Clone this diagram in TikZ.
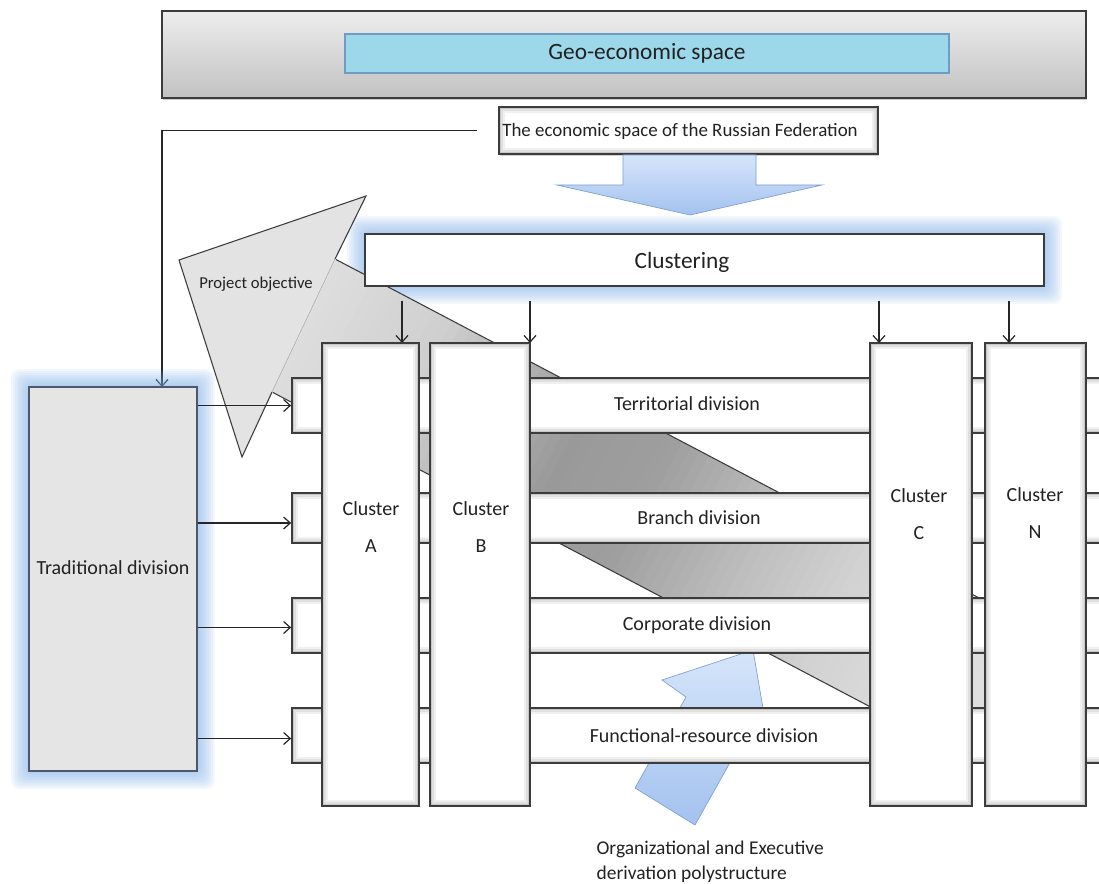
\documentclass[tikz,border=0pt]{standalone}
\usepackage{fontspec}
\setmainfont{Carlito}
\usetikzlibrary{arrows.meta,fit,shadows,calc}
\definecolor{txt}{HTML}{222222}
\definecolor{edge}{HTML}{3C3C3C}
\definecolor{cyanbox}{HTML}{9DD7EA}
\definecolor{cyanedge}{HTML}{6E9CC4}
\definecolor{glowc}{HTML}{7FAEEB}
\definecolor{blueA}{HTML}{D6E5FA}
\definecolor{blueB}{HTML}{A3C2EF}
\definecolor{blueedge}{HTML}{7F9FCF}
\definecolor{tradfill}{HTML}{E5E5E5}
\definecolor{tradedge}{HTML}{4A5868}
\definecolor{headfill}{HTML}{E3E3E3}
\newcommand{\glowrect}[4]{%
  \foreach \gi in {1,...,9}{%
    \fill[glowc, opacity=0.085, rounded corners=6pt] ({#1-\gi*2},{#2-\gi*2}) rectangle ({#3+\gi*2},{#4+\gi*2});}}
\tikzset{
  every node/.style={text=txt, font=\fontsize{15}{18}\selectfont},
  box/.style={draw=edge, line width=1.3pt, inner sep=0pt, fill=white},
  inshadow/.style={path picture={
    \foreach \dd/\cc in {0.75/22,2.25/12,3.75/6}{
      \draw[black!\cc, line width=1.5pt] ([shift={(\dd pt,\dd pt)}]path picture bounding box.south west) rectangle ([shift={(-\dd pt,-\dd pt)}]path picture bounding box.north east);}
  }},
  arr/.style={draw=black!85, line width=0.9pt, -{Straight Barb[length=5pt,width=9pt]}},
  lbl/.style={inner sep=1pt},
  bigfont/.style={font=\fontsize{17.5}{20}\selectfont},
}
\begin{document}
\begin{tikzpicture}[x=0.75pt,y=-0.75pt]
\fill[white] (0,0) rectangle (1099,884);
\useasboundingbox (0,0) rectangle (1099,884);
\clip (0,0) rectangle (1099,884);

% top boxes
\node[fit={(162,11) (1086,98)}, inner sep=0pt, draw=edge, line width=1.4pt, top color=black!7, bottom color=black!24, drop shadow={shadow xshift=1pt,shadow yshift=-1.5pt,opacity=0.4}] (geobg) {};
\node[fit={(345,34) (949,73)}, inner sep=0pt, draw=cyanedge, line width=0.8pt, fill=cyanbox, drop shadow={shadow xshift=0.8pt,shadow yshift=-1pt,opacity=0.25}] (geo) {};
\node[lbl, bigfont] (geot) at (geo.center) {Geo-economic space};

\node[box, inshadow, fit={(499,107) (878,154)}, drop shadow={shadow xshift=1pt,shadow yshift=-1.5pt,opacity=0.35}] (econ) {};
\node[lbl, font=\fontsize{14.2}{17}\selectfont] (econt) at (680,131) {The economic space of the Russian Federation};

% big blue down arrow
\shadedraw[top color=blueA, bottom color=blueB, draw=blueedge, line width=0.5pt]
  (623,155) -- (756,155) -- (756,185) -- (822,185) -- (690,215) -- (557,185) -- (623,185) -- cycle;

% connector to traditional division
\coordinate (tradin) at (162,387);
\draw[arr] ([xshift=-15.75pt]econ.west) -| (tradin);

% glows
\glowrect{29}{387}{197}{771}
\glowrect{365}{234}{1044}{286}

% traditional division
\node[fit={(29,387) (197,771)}, inner sep=0pt, draw=tradedge, line width=0.8pt, fill=tradfill] (trad) {};
\node[lbl] (tradt) at (113,568) {Traditional division};

% grey block arrow: shaft with gradient along its axis
\begin{scope}
  \clip (335,259) -- (1040,630) -- (977,763) -- (272,392) -- cycle;
  \begin{scope}[shift={(303,325)}, rotate=-27.75]
    \foreach \i in {-3,...,82}{
      \pgfmathsetmacro{\ss}{\i*10+5}
      \pgfmathsetmacro{\vv}{\ss<130 ? 13+6*\ss/130 : (\ss<290 ? 19+21*(\ss-130)/160 : (\ss<380 ? 40-2*(\ss-290)/90 : (\ss<500 ? 38-12*(\ss-380)/120 : (\ss<600 ? 26-8*(\ss-500)/100 : (\ss<700 ? 18-4*(\ss-600)/100 : 14-2*(\ss-700)/100)))))}
      \fill[black!\vv] ({\i*10},-140) rectangle ({\i*10+10.8},140);
    }
  \end{scope}
\end{scope}
\draw[edge, line width=0.8pt] (335,259) -- (1040,630);
\draw[edge, line width=0.8pt] (272,392) -- (977,763);
% head
\fill[headfill] (179,260) -- (366,196) -- (242,457) -- cycle;
\draw[edge, line width=0.8pt] (335,259) -- (366,196) -- (179,260) -- (242,457) -- (272,392);
\draw[black!35, line width=0.4pt] (335,259) -- (272,392);
\node[lbl, font=\fontsize{12.5}{15}\selectfont] (proj) at (256,284) {Project objective};

% clustering box
\node[box, line width=1pt, fit={(365,234) (1044,286)}] (clust) {};
\node[lbl, bigfont] (clustt) at (682,262) {Clustering};

% organizational blue arrow (behind bars)
\shadedraw[top color=blueA, bottom color=blueB, draw=blueedge, line width=0.5pt]
  (635,788) -- (695,825) -- (746,734) -- (770,749) -- (753,650) -- (662,680) -- (686,697) -- cycle;

% division bars
\node[box, inshadow, fit={(292,378) (1112,433)}] (bar1) {};
\node[box, inshadow, fit={(292,493) (1112,543)}] (bar2) {};
\node[box, inshadow, fit={(292,598) (1112,653)}] (bar3) {};
\node[box, inshadow, fit={(292,708) (1112,763)}] (bar4) {};
\node[lbl] (bar1t) at (687,404) {Territorial division};
\node[lbl] (bar2t) at (699,518) {Branch division};
\node[lbl] (bar3t) at (697,625) {Corporate division};
\node[lbl] (bar4t) at (704,736) {Functional-resource division};

% arrows from traditional division
\draw[arr] (trad.east |- bar1.west) -- (bar1.west);
\draw[arr] ([yshift=-3.75pt]trad.east |- bar2.west) -- ([yshift=-3.75pt]bar2.west);
\draw[arr] ([yshift=-1.5pt]trad.east |- bar3.west) -- ([yshift=-1.5pt]bar3.west);
\draw[arr] ([yshift=-2.25pt]trad.east |- bar4.west) -- ([yshift=-2.25pt]bar4.west);

% clusters
\node[box, inshadow, fit={(322,343) (419,806)}] (clA) {};
\node[box, inshadow, fit={(430,343) (530,806)}] (clB) {};
\node[box, inshadow, fit={(870,343) (972,806)}] (clC) {};
\node[box, inshadow, fit={(985,343) (1086,806)}] (clN) {};
\node[lbl, align=center] (clAt) at (371,527) {Cluster\\[10pt]A};
\node[lbl, align=center] (clBt) at (481,527) {Cluster\\[10pt]B};
\node[lbl, align=center] (clCt) at (919,514) {Cluster\\[10pt]C};
\node[lbl, align=center] (clNt) at (1035,513) {Cluster\\[10pt]N};

% arrows from clustering to clusters
\coordinate (inA) at (402,343);
\coordinate (inB) at (530,343);
\coordinate (inC) at (879,343);
\coordinate (inN) at (1009,343);
\foreach \k in {inA,inB,inC,inN}{
  \draw[arr] ([yshift=-10.5pt]clust.south -| \k) -- (\k);
}

% bottom label
\node[lbl, anchor=west, align=left, font=\fontsize{14.6}{18.75}\selectfont] (org) at (595,862) {Organizational and Executive\\derivation polystructure};
\end{tikzpicture}
\end{document}
